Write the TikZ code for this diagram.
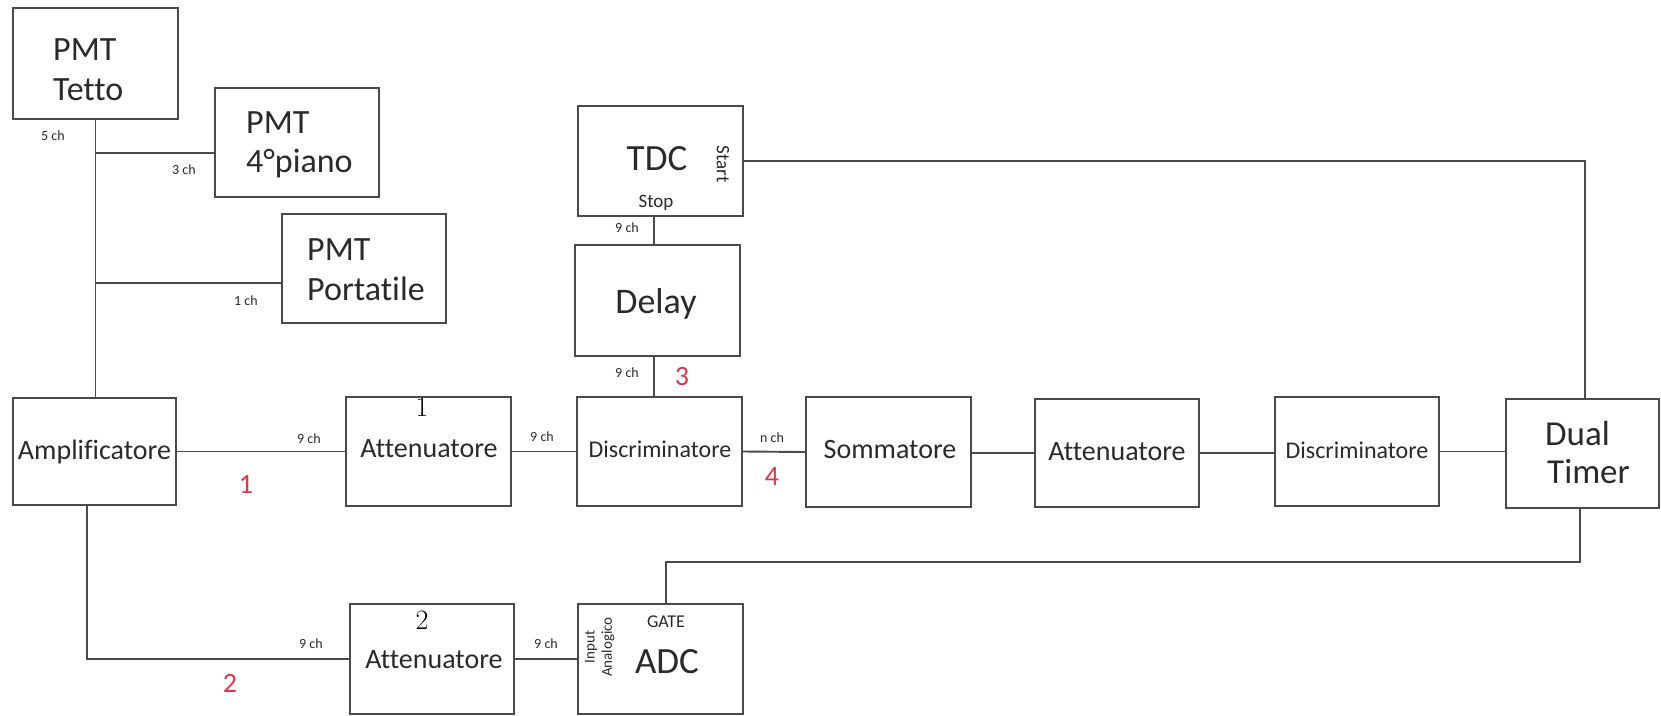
\documentclass[tikz,border=0pt]{standalone}
\usepackage{fontspec}
\newfontfamily\carl[Ligatures=NoCommon]{Carlito}
\definecolor{lnc}{HTML}{4A4A4A}
\definecolor{txc}{HTML}{2A2A2A}
\definecolor{rdc}{HTML}{D63A4C}
\begin{document}
\begin{tikzpicture}[x=1pt,y=-1pt,
  bx/.style={draw=lnc, line width=1.9pt, inner sep=0pt},
  lab/.style={text=txc, inner sep=0pt, font={\carl\fontsize{#1}{#1}\selectfont}},
  chl/.style={text=txc, inner sep=0pt, font={\carl\fontsize{14}{14}\selectfont}},
  red/.style={text=rdc, inner sep=0pt, font={\carl\fontsize{28}{28}\selectfont}},
  lmn/.style={text=black, inner sep=0pt, font={\fontsize{28}{28}\selectfont}},
  wire/.style={draw=lnc, line width=1.9pt}]
\fill[white] (0,0) rectangle (1661,715);
\useasboundingbox (0,0) rectangle (1661,715);

% boxes
\node[bx, minimum width=165pt, minimum height=111pt] (tetto) at (95.5,63.5) {};
\node[bx, minimum width=164pt, minimum height=109pt] (piano) at (297,142.5) {};
\node[bx, minimum width=164pt, minimum height=109pt] (port) at (364,268.5) {};
\node[bx, minimum width=163pt, minimum height=107pt] (ampl) at (94.5,451.5) {};
\node[bx, minimum width=165pt, minimum height=109pt] (att1) at (428.5,451.5) {};
\node[bx, minimum width=165pt, minimum height=109pt] (disc1) at (659.5,451.5) {};
\node[bx, minimum width=165pt, minimum height=110pt] (somm) at (888.5,452) {};
\node[bx, minimum width=164pt, minimum height=108pt] (att3) at (1117,453) {};
\node[bx, minimum width=164pt, minimum height=109pt] (disc2) at (1357,451.5) {};
\node[bx, minimum width=153pt, minimum height=109pt] (dual) at (1582.5,453.5) {};
\node[bx, minimum width=165pt, minimum height=110pt] (tdc) at (660.5,161) {};
\node[bx, minimum width=165pt, minimum height=111pt] (delay) at (657.5,300.5) {};
\node[bx, minimum width=164pt, minimum height=110pt] (att2) at (432,659) {};
\node[bx, minimum width=165pt, minimum height=110pt] (adc) at (660.5,659) {};

% box texts
\node[lab=34, anchor=base west] (tettoA) at (53,60) {PMT};
\node[lab=34, anchor=base west] (tettoB) at (53,100) {Tetto};
\node[lab=34, anchor=base west] (pianoA) at (246,133) {PMT};
\node[lab=34, anchor=base west] (pianoB) at (246,172) {4°piano};
\node[lab=34, anchor=base west] (portA) at (307,260) {PMT};
\node[lab=34, anchor=base west] (portB) at (307,300) {Portatile};
\node[lab=28, anchor=base] (amplT) at (94.5,459) {Amplificatore};
\node[lab=28, anchor=base] (att1T) at (429,457) {Attenuatore};
\node[lab=24, anchor=base] (disc1T) at (660,457) {Discriminatore};
\node[lab=28, anchor=base] (sommT) at (890,458) {Sommatore};
\node[lab=28, anchor=base] (att3T) at (1117,460) {Attenuatore};
\node[lab=24, anchor=base] (disc2T) at (1357,458) {Discriminatore};
\node[lab=35, anchor=base west] (dualA) at (1545,445) {Dual};
\node[lab=35, anchor=base west] (dualB) at (1547,483) {Timer};
\node[lab=37, anchor=base] (tdcT) at (657,170) {TDC};
\node[lab=19, rotate=-90] (startT) at (723,164) {Start};
\node[lab=19, anchor=base] (stopT) at (656,207) {Stop};
\node[lab=36, anchor=base] (delayT) at (656,313) {Delay};
\node[lab=28, anchor=base] (att2T) at (434,668) {Attenuatore};
\node[lab=37, anchor=base] (adcT) at (667,673) {ADC};
\node[lab=18, anchor=base] (gateT) at (666,627) {GATE};
\node[lab=15, rotate=90] (inT) at (591,647) {Input};
\node[lab=15, rotate=90] (anT) at (608,647) {Analogico};

% channel labels
\node[chl] (c5) at (53,136) {5 ch};
\node[chl] (c3) at (184,170) {3 ch};
\node[chl] (c1) at (246,301) {1 ch};
\node[chl] (ca) at (309,439) {9 ch};
\node[chl] (cb) at (542,437) {9 ch};
\node[chl] (cc) at (311,644) {9 ch};
\node[chl] (cd) at (546,644) {9 ch};
\node[chl] (ce) at (627,228) {9 ch};
\node[chl] (cf) at (627,373) {9 ch};
\node[chl] (cn) at (772,438) {n ch};

% red numbers
\node[red] (r1) at (246,484) {1};
\node[red] (r2) at (230,683) {2};
\node[red] (r3) at (682,377) {3};
\node[red] (r4) at (772,477) {4};

% black serif numbers
\node[lmn] (n1) at (422,407) {1};
\node[lmn] (n2) at (422,620) {2};

% connectors
\coordinate (j1) at (95,153);
\coordinate (j2) at (95,283);
\draw[wire] (tetto.south) -- (tetto.south |- ampl.north);
\draw[wire] (j1) -- (j1 -| piano.west);
\draw[wire] (j2) -- (j2 -| port.west);
\draw[wire] (ampl.east) -- (att1.west);
\draw[wire] (att1.east) -- (disc1.west);
\draw[wire] (disc1.east) -- (somm.west);
\draw[wire] ([yshift=-1pt]somm.east) -- ([yshift=-1pt]somm.east -| att3.west);
\draw[wire] (att3.east) -- (att3.east -| disc2.west);
\draw[wire] (disc2.east) -- (disc2.east -| dual.west);
\coordinate (ab) at (87,505);
\draw[wire] (ab |- ampl.south) |- (att2.west);
\draw[wire] (att2.east) -- (adc.west);
\coordinate (tx) at (654,216);
\draw[wire] (tx |- tdc.south) -- (tx |- delay.north);
\draw[wire] (tx |- delay.south) -- (tx |- disc1.north);
\coordinate (ds) at (1585,161);
\draw[wire] (tdc.east) -- (ds) -- (ds |- dual.north);
\coordinate (g1) at (1580,562);
\coordinate (g2) at (666,562);
\draw[wire] (g1 |- dual.south) -- (g1) -- (g2) -- (g2 |- adc.north);
\end{tikzpicture}
\end{document}
